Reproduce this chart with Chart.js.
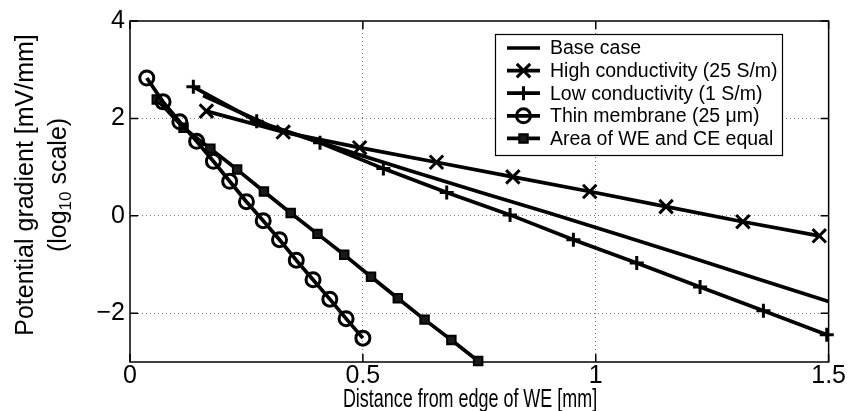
<!DOCTYPE html>
<html>
<head>
<meta charset="utf-8">
<title>Potential gradient vs distance</title>
<script src="https://cdn.jsdelivr.net/npm/chart.js@4.4.0/dist/chart.umd.min.js"></script>
<style>
  html, body { margin: 0; padding: 0; background: #fff; }
  #wrap { width: 848px; height: 411px; }
</style>
</head>
<body>
<div id="wrap"><canvas id="gradchart" width="848" height="411"></canvas></div>
<script>
// log10 of the potential gradient against distance from the WE edge
var seriesNames = ['Base case', 'High conductivity (25 S/m)', 'Low conductivity (1 S/m)',
                   'Thin membrane (25 \u03bcm)', 'Area of WE and CE equal'];

var baseX = [0.157, 0.30, 0.45, 0.60, 0.75, 0.90, 1.05, 1.20, 1.35, 1.50];
var baseY = [2.47, 1.85, 1.38, 0.93, 0.49, 0.06, -0.39, -0.84, -1.30, -1.76];

var highX = [0.164, 0.329, 0.493, 0.658, 0.822, 0.987, 1.151, 1.316, 1.48];
var highY = [2.15, 1.72, 1.40, 1.10, 0.80, 0.50, 0.19, -0.12, -0.41];

var lowX = [0.136, 0.272, 0.408, 0.544, 0.68, 0.816, 0.952, 1.088, 1.224, 1.36, 1.496];
var lowY = [2.65, 1.94, 1.50, 0.97, 0.48, 0.02, -0.49, -0.97, -1.46, -1.95, -2.44];

var thinX = [0.036, 0.071, 0.107, 0.143, 0.179, 0.214, 0.25, 0.286, 0.321, 0.357, 0.393, 0.429, 0.464, 0.5];
var thinY = [2.83, 2.34, 1.93, 1.53, 1.12, 0.71, 0.29, -0.10, -0.49, -0.91, -1.31, -1.71, -2.11, -2.51];

var areaX = [0.0575, 0.115, 0.1725, 0.23, 0.2875, 0.345, 0.4025, 0.46, 0.5175, 0.575, 0.6325, 0.69, 0.7475];
var areaY = [2.39, 1.81, 1.38, 0.95, 0.50, 0.06, -0.37, -0.80, -1.25, -1.69, -2.13, -2.55, -2.98];

var xTickValues = [0, 0.5, 1, 1.5];
var yTickValues = [-2, 0, 2, 4];
var xTitle = 'Distance from edge of WE [mm]';
var yTitleTop = 'Potential gradient [mV/mm]';

var fontFamily = '"Liberation Sans", Arial, Helvetica, sans-serif';

function pairUp(xs, ys) {
  return xs.map(function (x, i) { return { x: x, y: ys[i] }; });
}

function minusLabel(v) {
  return v < 0 ? '\u2212' + Math.abs(v) : String(v);
}

// marker look per series
var markers = [
  { style: false, radius: 0, width: 0, fill: 'rgba(0,0,0,0)' },
  { style: 'crossRot', radius: 9.5, width: 3, fill: 'rgba(0,0,0,0)' },
  { style: 'cross', radius: 7, width: 3, fill: 'rgba(0,0,0,0)' },
  { style: 'circle', radius: 7, width: 3, fill: 'rgba(0,0,0,0)' },
  { style: 'rect', radius: 6, width: 2, fill: '#1a1a1a' }
];

var seriesData = [pairUp(baseX, baseY), pairUp(highX, highY), pairUp(lowX, lowY),
                  pairUp(thinX, thinY), pairUp(areaX, areaY)];

var datasets = seriesData.map(function (pts, i) {
  var m = markers[i];
  return {
    label: seriesNames[i],
    data: pts,
    showLine: true,
    tension: 0,
    clip: false,
    borderColor: '#000',
    borderWidth: 3.7,
    borderJoinStyle: 'round',
    pointStyle: m.style,
    pointRadius: m.radius,
    pointHoverRadius: m.radius,
    pointBorderWidth: m.width,
    pointBorderColor: '#000',
    pointBackgroundColor: m.fill
  };
});

function drawMarker(ctx, m, x, y) {
  if (!m.style) return;
  ctx.save();
  ctx.lineWidth = m.width;
  ctx.strokeStyle = '#000';
  ctx.fillStyle = m.fill;
  if (Chart.helpers && Chart.helpers.drawPoint) {
    Chart.helpers.drawPoint(ctx, { pointStyle: m.style, radius: m.radius, borderWidth: m.width, rotation: 0 }, x, y);
  }
  ctx.restore();
}

// box with inward ticks on all four sides
var frameAndTicks = {
  id: 'frameAndTicks',
  beforeDatasetsDraw: function (chart) {
    var ctx = chart.ctx, a = chart.chartArea;
    var xs = chart.scales.x, ys = chart.scales.y;
    var len = 8;
    ctx.save();
    ctx.strokeStyle = '#000';
    ctx.lineWidth = 1.5;
    ctx.strokeRect(a.left, a.top, a.right - a.left, a.bottom - a.top);
    ctx.beginPath();
    xTickValues.forEach(function (v) {
      var px = xs.getPixelForValue(v);
      ctx.moveTo(px, a.bottom); ctx.lineTo(px, a.bottom - len);
      ctx.moveTo(px, a.top); ctx.lineTo(px, a.top + len);
    });
    yTickValues.forEach(function (v) {
      var py = ys.getPixelForValue(v);
      ctx.moveTo(a.left, py); ctx.lineTo(a.left + len, py);
      ctx.moveTo(a.right, py); ctx.lineTo(a.right - len, py);
    });
    ctx.stroke();
    ctx.restore();
  }
};

// axis titles: narrow x title, two-line y title with a subscript
var axisTitles = {
  id: 'axisTitles',
  afterDraw: function (chart) {
    var ctx = chart.ctx;
    ctx.save();
    ctx.fillStyle = '#000';
    ctx.textBaseline = 'alphabetic';
    ctx.textAlign = 'center';
    ctx.font = '26px ' + fontFamily;
    ctx.save();
    ctx.translate(470, 407);
    ctx.scale(0.69, 1);
    ctx.fillText(xTitle, 0, 0);
    ctx.restore();

    ctx.font = '25px ' + fontFamily;
    ctx.translate(0, 185);
    ctx.rotate(-Math.PI / 2);
    ctx.fillText(yTitleTop, 0, 33);

    var big = '25px ' + fontFamily, small = '17px ' + fontFamily;
    var p1 = '(log', p2 = '10', p3 = ' scale)';
    ctx.font = big;
    var w1 = ctx.measureText(p1).width, w3 = ctx.measureText(p3).width;
    ctx.font = small;
    var w2 = ctx.measureText(p2).width;
    var x0 = -(w1 + w2 + w3) / 2;
    ctx.textAlign = 'left';
    ctx.font = big;
    ctx.fillText(p1, x0, 66);
    ctx.font = small;
    ctx.fillText(p2, x0 + w1, 71);
    ctx.font = big;
    ctx.fillText(p3, x0 + w1 + w2, 66);
    ctx.restore();
  }
};

// boxed legend in the upper right of the plot
var boxLegend = {
  id: 'boxLegend',
  afterDraw: function (chart) {
    var ctx = chart.ctx;
    var left = 495, top = 34, w = 287, h = 121;
    ctx.save();
    ctx.fillStyle = '#fff';
    ctx.fillRect(left, top, w, h);
    ctx.strokeStyle = '#000';
    ctx.lineWidth = 1.2;
    ctx.strokeRect(left + 0.5, top + 0.5, w, h);
    chart.data.datasets.forEach(function (ds, i) {
      var y = top + 14 + i * 22.6;
      ctx.strokeStyle = '#000';
      ctx.lineWidth = ds.borderWidth;
      ctx.beginPath();
      ctx.moveTo(left + 12, y);
      ctx.lineTo(left + 45, y);
      ctx.stroke();
      drawMarker(ctx, markers[i], left + 28.5, y);
      ctx.fillStyle = '#000';
      ctx.font = '19.5px ' + fontFamily;
      ctx.textBaseline = 'middle';
      ctx.textAlign = 'left';
      ctx.fillText(ds.label, left + 55, y + 1);
    });
    ctx.restore();
  }
};

function hideEdge(values) {
  return function (c) {
    if (!c.tick) return 'rgba(0,0,0,0)';
    var v = c.tick.value;
    return (v === values[0] || v === values[values.length - 1]) ? 'rgba(0,0,0,0)' : '#7a7a7a';
  };
}

new Chart(document.getElementById('gradchart'), {
  type: 'scatter',
  data: { datasets: datasets },
  options: {
    responsive: false,
    animation: false,
    devicePixelRatio: 1,
    layout: { padding: { top: 21, right: 19, left: 0, bottom: 0 } },
    plugins: {
      legend: { display: false },
      tooltip: { enabled: false }
    },
    scales: {
      x: {
        type: 'linear',
        min: 0,
        max: 1.5,
        afterBuildTicks: function (s) { s.ticks = xTickValues.map(function (v) { return { value: v }; }); },
        afterFit: function (s) { s.height = 49; },
        grid: { color: hideEdge([0, 1.5]), lineWidth: 1, drawTicks: false },
        border: { display: false, dash: [1, 3] },
        ticks: {
          color: '#000',
          font: { family: fontFamily, size: 25, lineHeight: 1 },
          padding: 2,
          maxRotation: 0,
          autoSkip: false,
          callback: function (v) { return minusLabel(v); }
        }
      },
      y: {
        type: 'linear',
        min: -3,
        max: 4,
        afterBuildTicks: function (s) { s.ticks = yTickValues.map(function (v) { return { value: v }; }); },
        afterFit: function (s) { s.width = 130; },
        grid: { color: hideEdge([-3, 4]), lineWidth: 1, drawTicks: false },
        border: { display: false, dash: [1, 3] },
        ticks: {
          color: '#000',
          font: { family: fontFamily, size: 25, lineHeight: 1 },
          padding: 5,
          autoSkip: false,
          callback: function (v) { return minusLabel(v); }
        }
      }
    }
  },
  plugins: [frameAndTicks, axisTitles, boxLegend]
});
</script>
</body>
</html>
